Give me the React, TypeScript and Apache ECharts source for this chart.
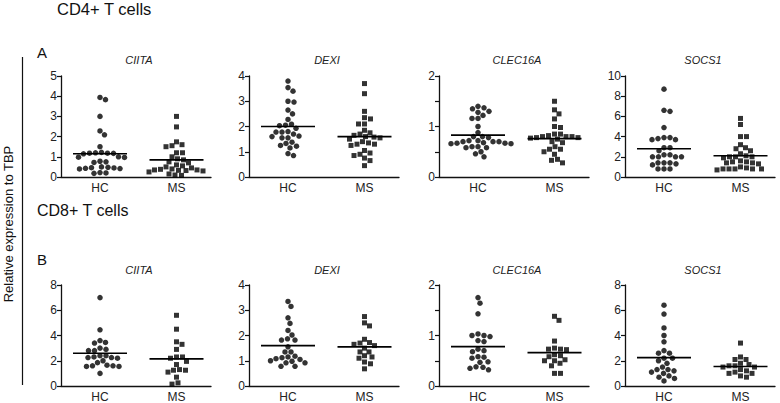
import React, { useEffect, useRef } from "react";
import * as echarts from "echarts";

// ---- data ----
const genes = ["CIITA", "DEXI", "CLEC16A", "SOCS1"];
const groups = ["HC", "MS"];

// CD4+ T cells
const cd4CiitaHC = [3.94, 3.83, 3.0, 2.28, 2.09, 1.5, 1.22, 1.2, 1.18, 1.18, 1.17, 1.15, 1.0, 0.98, 0.97, 0.78, 0.75, 0.72, 0.5, 0.48, 0.46, 0.45, 0.43, 0.42, 0.4, 0.22, 0.2, 0.18];
const cd4CiitaMS = [3.0, 2.48, 1.74, 1.6, 1.55, 1.5, 1.2, 1.2, 1.0, 0.9, 0.85, 0.75, 0.7, 0.6, 0.55, 0.5, 0.45, 0.4, 0.38, 0.35, 0.35, 0.33, 0.32, 0.3, 0.25, 0.15, 0.1, 0.08];
const cd4DexiHC = [3.8, 3.54, 3.4, 3.0, 2.97, 2.65, 2.5, 2.28, 2.09, 2.05, 2.03, 1.93, 1.8, 1.78, 1.78, 1.7, 1.62, 1.6, 1.55, 1.55, 1.38, 1.33, 1.25, 1.22, 1.15, 0.93, 0.85];
const cd4DexiMS = [3.7, 3.3, 2.6, 2.35, 2.3, 2.1, 2.1, 1.85, 1.75, 1.7, 1.65, 1.6, 1.58, 1.55, 1.5, 1.4, 1.35, 1.3, 1.3, 1.25, 1.05, 0.95, 0.9, 0.85, 0.75, 0.65, 0.45];
const cd4ClecHC = [1.4, 1.37, 1.35, 1.3, 1.28, 1.22, 1.16, 1.16, 1.0, 0.88, 0.8, 0.78, 0.8, 0.72, 0.7, 0.7, 0.68, 0.67, 0.66, 0.66, 0.67, 0.7, 0.72, 0.6, 0.58, 0.58, 0.6, 0.5, 0.46, 0.4];
const cd4ClecMS = [1.5, 1.33, 1.25, 1.15, 1.0, 0.98, 0.85, 0.85, 0.8, 0.8, 0.78, 0.77, 0.78, 0.8, 0.82, 0.75, 0.7, 0.68, 0.6, 0.55, 0.55, 0.5, 0.45, 0.35, 0.33, 0.28];
const cd4SocsHC = [8.7, 6.6, 6.5, 4.9, 3.9, 3.8, 3.7, 3.7, 3.9, 2.9, 2.9, 2.6, 2.2, 2.0, 2.0, 2.0, 2.0, 2.2, 1.4, 1.4, 1.3, 1.2, 1.4, 0.8, 0.8, 0.8];
const cd4SocsMS = [5.8, 5.2, 4.0, 4.0, 3.2, 2.8, 2.6, 2.9, 2.3, 2.1, 2.0, 2.0, 2.0, 1.9, 1.6, 1.5, 1.5, 1.4, 1.4, 1.3, 1.0, 0.9, 0.8, 0.8, 0.8, 0.7, 0.8, 0.8];

// CD8+ T cells
const cd8CiitaHC = [7.0, 4.45, 3.6, 3.45, 3.4, 3.0, 2.9, 2.8, 2.8, 2.4, 2.4, 2.3, 2.25, 2.25, 2.2, 2.0, 1.85, 1.65, 1.6, 1.6, 1.55, 1.55, 1.0];
const cd8CiitaMS = [5.6, 4.5, 3.5, 3.3, 2.9, 2.3, 2.3, 2.2, 1.95, 1.7, 1.3, 1.25, 1.25, 1.1, 0.7, 0.25, 0.15];
const cd8DexiHC = [3.35, 3.15, 2.7, 2.48, 2.2, 2.02, 1.87, 1.82, 1.82, 1.55, 1.35, 1.35, 1.18, 1.15, 1.12, 1.08, 1.05, 1.0, 0.98, 0.92, 0.92, 0.78, 0.78];
const cd8DexiMS = [2.75, 2.5, 2.38, 1.85, 1.72, 1.7, 1.65, 1.6, 1.5, 1.35, 1.35, 1.2, 1.15, 1.1, 0.95, 0.88, 0.68];
const cd8ClecHC = [1.75, 1.64, 1.43, 1.03, 1.0, 1.0, 0.98, 0.9, 0.88, 0.73, 0.7, 0.68, 0.58, 0.55, 0.57, 0.48, 0.47, 0.38, 0.37, 0.35, 0.32];
const cd8ClecMS = [1.38, 1.3, 0.89, 0.75, 0.73, 0.72, 0.73, 0.62, 0.6, 0.58, 0.52, 0.5, 0.5, 0.45, 0.4, 0.25, 0.25];
const cd8SocsHC = [6.4, 5.7, 4.6, 4.0, 3.5, 2.8, 2.6, 2.6, 2.2, 2.2, 2.0, 1.8, 1.5, 1.3, 1.2, 1.3, 1.1, 1.0, 0.8, 0.7, 0.6, 0.4];
const cd8SocsMS = [3.4, 2.3, 2.1, 2.1, 1.8, 1.7, 1.6, 1.6, 1.5, 1.5, 1.3, 1.2, 1.1, 1.0, 1.0, 0.8, 0.7];

// medians (horizontal bars)
const cd4Medians = [[1.15, 0.85], [2.0, 1.6], [0.83, 0.76], [2.8, 2.1]];
const cd8Medians = [[2.6, 2.15], [1.6, 1.55], [0.78, 0.66], [2.25, 1.55]];

// y axis ranges / tick intervals
const cd4YMax = [5, 4, 2, 10];
const cd4YStep = [1, 1, 0.5, 2];
const cd8YMax = [8, 4, 2, 8];
const cd8YStep = [2, 1, 0.5, 2];

const cd4Values = [[cd4CiitaHC, cd4CiitaMS], [cd4DexiHC, cd4DexiMS], [cd4ClecHC, cd4ClecMS], [cd4SocsHC, cd4SocsMS]];
const cd8Values = [[cd8CiitaHC, cd8CiitaMS], [cd8DexiHC, cd8DexiMS], [cd8ClecHC, cd8ClecMS], [cd8SocsHC, cd8SocsMS]];

// ---- layout ----
const PANEL_LEFT = [61, 249, 439, 625];
const PANEL_W = 150;
const ROWS = [
  { top: 76, height: 101, titleY: 60 },
  { top: 285, height: 101, titleY: 270 },
];
const CENTERS = [0.26, 0.77];
const HALF = 0.18;
const DOT = 5.5;
const FONT = "Liberation Sans, Arial, sans-serif";

// beeswarm layout: computes horizontal offsets (px) so that dots do not overlap
function swarm(values: number[], pxPerUnit: number): number[] {
  const idx = values.map((v, i) => i).sort((a, b) => values[b] - values[a]);
  const placed: { x: number; y: number }[] = [];
  const out = new Array(values.length).fill(0);
  const d = DOT + 0.3;
  for (const i of idx) {
    const y = values[i] * pxPerUnit;
    const cands: number[] = [0];
    for (let k = 1; k < 80; k++) { cands.push(k * 0.5); cands.push(-k * 0.5); }
    let chosen = 0;
    for (const c of cands) {
      let ok = true;
      for (const p of placed) {
        const dx = p.x - c, dy = p.y - y;
        if (dx * dx + dy * dy < d * d) { ok = false; break; }
      }
      if (ok) { chosen = c; break; }
    }
    placed.push({ x: chosen, y });
    out[i] = chosen;
  }
  return out;
}

export default function App() {
  const ref = useRef<HTMLDivElement>(null);
  useEffect(() => {
    if (!ref.current) return;
    const chart = echarts.init(ref.current, null, { renderer: "svg" });
    const grid: any[] = [];
    const xAxis: any[] = [];
    const yAxis: any[] = [];
    const series: any[] = [];
    const graphic: any[] = [];
    const rowsData = [
      { values: cd4Values, medians: cd4Medians, yMax: cd4YMax, yStep: cd4YStep },
      { values: cd8Values, medians: cd8Medians, yMax: cd8YMax, yStep: cd8YStep },
    ];
    rowsData.forEach((row, r) => {
      const R = ROWS[r];
      genes.forEach((g, c) => {
        const gi = grid.length;
        grid.push({ left: PANEL_LEFT[c], top: R.top, width: PANEL_W, height: R.height });
        xAxis.push({
          gridIndex: gi, type: "value", min: 0, max: 1,
          axisLine: { show: true, onZero: false, lineStyle: { color: "#111", width: 1.3 } },
          axisTick: { show: false },
          splitLine: { show: false },
          axisLabel: {
            customValues: CENTERS,
            formatter: (v: number) => (Math.abs(v - CENTERS[0]) < 0.01 ? groups[0] : groups[1]),
            color: "#222", fontSize: 12, fontFamily: FONT, margin: 5,
          },
        });
        const step = row.yStep[c];
        yAxis.push({
          gridIndex: gi, type: "value", min: 0, max: row.yMax[c], interval: step,
          axisLine: { show: true, lineStyle: { color: "#111", width: 1.3 } },
          axisTick: { show: true, length: 4, lineStyle: { color: "#111", width: 1.2 } },
          splitLine: { show: false },
          axisLabel: {
            color: "#222", fontSize: 12, fontFamily: FONT, margin: 4,
            formatter: (v: number) => (Number.isInteger(v) ? String(v) : ""),
          },
        });
        const pxPerUnit = R.height / row.yMax[c];
        [0, 1].forEach((k) => {
          const vals = row.values[c][k];
          const offs = swarm(vals, pxPerUnit);
          series.push({
            type: "scatter", xAxisIndex: gi, yAxisIndex: gi,
            symbol: k === 0 ? "circle" : "rect",
            symbolSize: k === 0 ? DOT : DOT - 0.5,
            itemStyle: { color: "#000" },
            data: vals.map((v, i) => [CENTERS[k] + offs[i] / PANEL_W, v]),
            silent: true,
          });
          const m = row.medians[c][k];
          series.push({
            type: "line", xAxisIndex: gi, yAxisIndex: gi, symbol: "none",
            lineStyle: { color: "#000", width: 1.6 },
            data: [[CENTERS[k] - HALF, m], [CENTERS[k] + HALF, m]],
            silent: true,
          });
        });
        graphic.push({
          type: "text", x: PANEL_LEFT[c] + PANEL_W / 2 + 3, y: R.titleY,
          style: { text: g, font: `italic 11px ${FONT}`, fill: "#222", align: "center", verticalAlign: "middle" },
        });
      });
    });
    graphic.push(
      { type: "text", x: 57, y: 9, style: { text: "CD4+ T cells", font: `16.5px ${FONT}`, fill: "#111", verticalAlign: "middle" } },
      { type: "text", x: 37, y: 52, style: { text: "A", font: `15px ${FONT}`, fill: "#111", verticalAlign: "middle" } },
      { type: "text", x: 37, y: 210, style: { text: "CD8+ T cells", font: `16px ${FONT}`, fill: "#111", verticalAlign: "middle" } },
      { type: "text", x: 37, y: 259, style: { text: "B", font: `15px ${FONT}`, fill: "#111", verticalAlign: "middle" } },
      { type: "line", shape: { x1: 22.5, y1: 57, x2: 22.5, y2: 385 }, style: { stroke: "#111", lineWidth: 1.2 } },
      {
        type: "text", x: 8, y: 224, rotation: Math.PI / 2,
        style: { text: "Relative expression to TBP", font: `13px ${FONT}`, fill: "#111", align: "center", verticalAlign: "middle" },
      },
    );
    chart.setOption({ animation: false, grid, xAxis, yAxis, series, graphic });
    return () => chart.dispose();
  }, []);
  return <div ref={ref} style={{ width: 780, height: 403, position: "absolute", left: 0, top: 0 }} />;
}
